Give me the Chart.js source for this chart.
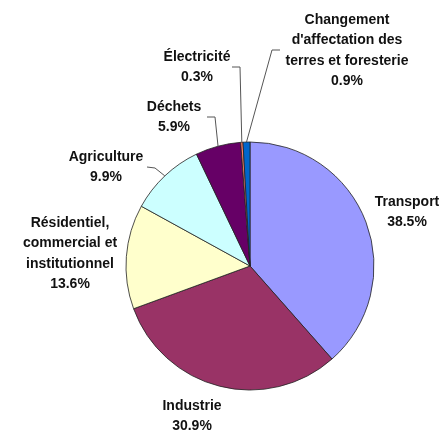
<!DOCTYPE html>
<html>
<head>
<meta charset="utf-8">
<script src="https://cdn.jsdelivr.net/npm/chart.js@4.4.0/dist/chart.umd.min.js"></script>
<style>
  html, body { margin: 0; padding: 0; background: #fff; }
  #wrap { width: 446px; height: 431px; position: relative; }
</style>
</head>
<body>
<div id="wrap"><canvas id="pie" width="446" height="431"></canvas></div>
<script>
// categories, in drawing order (clockwise from 12 o'clock)
const categories = [
  'Transport',
  'Industrie',
  'Résidentiel, commercial et institutionnel',
  'Agriculture',
  'Déchets',
  'Électricité',
  "Changement d'affectation des terres et foresterie"
];
const shares = [38.5, 30.9, 13.6, 9.9, 5.9, 0.3, 0.9];
const labelLines = [
  ['Transport'],
  ['Industrie'],
  ['Résidentiel,', 'commercial et', 'institutionnel'],
  ['Agriculture'],
  ['Déchets'],
  ['Électricité'],
  ['Changement', "d'affectation des", 'terres et foresterie']
];
const sliceColors = ['#9999FF', '#993366', '#FFFFCC', '#CCFFFF', '#660066', '#FF7F6A', '#0066CC'];

// label placement (text centre, first line) and leader knees
const labelLayout = [
  { x: 407, y: 202 },
  { x: 192, y: 406 },
  { x: 70, y: 223 },
  { x: 106, y: 157, leader: [[155, 168], [147, 167]] },
  { x: 174, y: 107, leader: [[215, 117], [207, 117]] },
  { x: 197, y: 57, leader: [[240, 67], [232, 67]] },
  { x: 347, y: 20, leader: [[272, 50], [280, 50]] }
];
const lineH = 20.5;

const labelPlugin = {
  id: 'pieLabels',
  afterDraw(chart) {
    const ctx = chart.ctx;
    const meta = chart.getDatasetMeta(0);
    ctx.save();
    meta.data.forEach((arc, i) => {
      const lay = labelLayout[i];
      if (lay.leader) {
        const p = arc.getProps(['x', 'y', 'startAngle', 'endAngle', 'outerRadius'], true);
        const mid = (p.startAngle + p.endAngle) / 2;
        const sx = p.x + Math.cos(mid) * p.outerRadius;
        const sy = p.y + Math.sin(mid) * p.outerRadius;
        ctx.strokeStyle = '#555';
        ctx.lineWidth = 1;
        ctx.beginPath();
        ctx.moveTo(sx, sy);
        lay.leader.forEach(pt => ctx.lineTo(pt[0], pt[1]));
        ctx.stroke();
      }
      const lines = labelLines[i].concat([shares[i].toFixed(1) + '%']);
      ctx.fillStyle = '#111';
      ctx.font = 'bold 14px "Liberation Sans", Arial, sans-serif';
      ctx.textAlign = 'center';
      ctx.textBaseline = 'middle';
      lines.forEach((t, k) => ctx.fillText(t, lay.x, lay.y + k * lineH));
    });
    ctx.restore();
  }
};

new Chart(document.getElementById('pie').getContext('2d'), {
  type: 'pie',
  data: {
    labels: categories,
    datasets: [{
      data: shares,
      backgroundColor: sliceColors,
      borderColor: '#222',
      borderWidth: 0.8
    }]
  },
  options: {
    responsive: false,
    animation: false,
    radius: 124,
    layout: { padding: { left: 64, right: 10, top: 111, bottom: 10 } },
    plugins: {
      legend: { display: false },
      tooltip: { enabled: false }
    }
  },
  plugins: [labelPlugin]
});
</script>
</body>
</html>
